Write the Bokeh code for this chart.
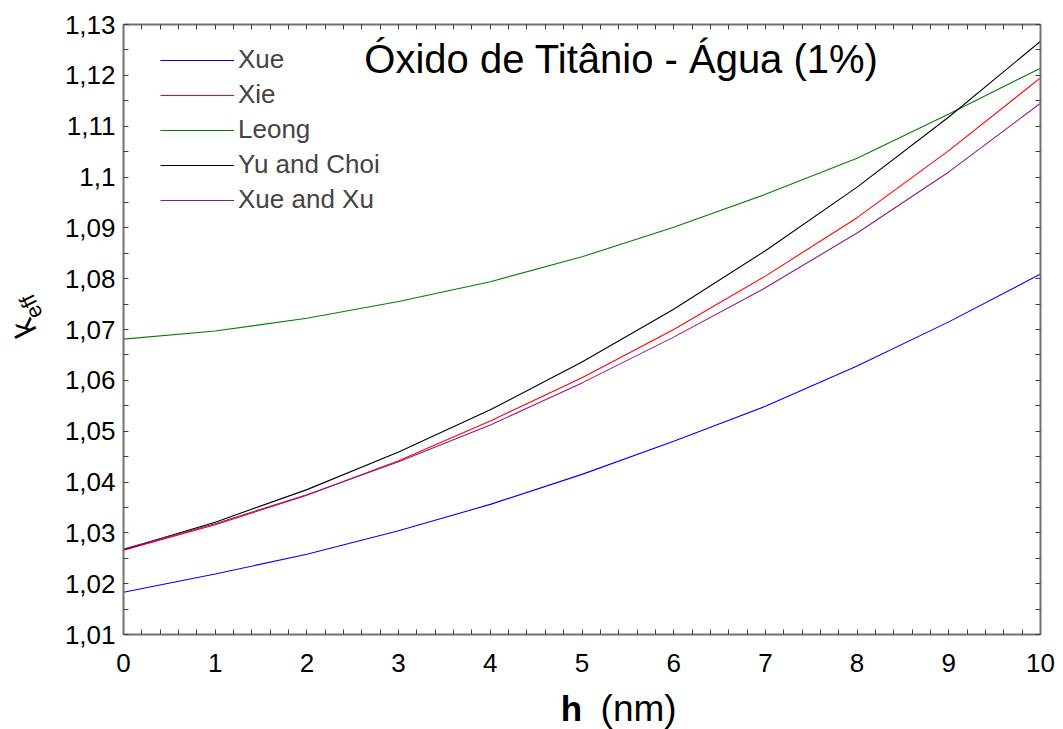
import math

from bokeh.core.properties import value
from bokeh.embed import file_html
from bokeh.layouts import column, row
from bokeh.models import (CustomJSTickFormatter, Label, Legend, LegendItem,
                          LinearAxis, Range1d, SingleIntervalTicker)
from bokeh.plotting import figure
from bokeh.resources import INLINE

# Espessura da nanocamada h (nm)
h = [0, 1, 2, 3, 4, 5, 6, 7, 8, 9, 10]

# Condutividade térmica efetiva k_eff para cada modelo
xue = [1.0183, 1.0219, 1.0258, 1.0304, 1.0356, 1.0415, 1.0480, 1.0549, 1.0628, 1.0715, 1.0809]
xie = [1.0266, 1.0316, 1.0374, 1.0442, 1.0520, 1.0605, 1.0700, 1.0805, 1.0920, 1.1052, 1.1195]
leong = [1.0681, 1.0697, 1.0722, 1.0755, 1.0794, 1.0843, 1.0901, 1.0966, 1.1037, 1.1124, 1.1214]
yu_choi = [1.0267, 1.0321, 1.0385, 1.0459, 1.0542, 1.0636, 1.0740, 1.0855, 1.0980, 1.1118, 1.1267]
xue_xu = [1.0268, 1.0318, 1.0375, 1.0440, 1.0512, 1.0595, 1.0685, 1.0782, 1.0890, 1.1010, 1.1145]

series_names = ["Xue", "Xie", "Leong", "Yu and Choi", "Xue and Xu"]
series_values = [xue, xie, leong, yu_choi, xue_xu]
series_colors = ["#0000ff", "#ff0000", "#008000", "#000000", "#8b1a8b"]

title_text = "Óxido de Titânio - Água (1%)"

FONT = "Liberation Sans"
AXIS_GRAY = "#707070"

LEFT_W = 52      # strip holding the rotated y title
BOTTOM_H = 44    # strip holding the x title
W, H = 1063, 729
FRAME_LEFT = 123  # page x of the plot frame's left edge

# ---------------------------------------------------------------- main plot
p = figure(
    width=W - LEFT_W, height=H - BOTTOM_H,
    output_backend="svg", toolbar_location=None,
    x_range=Range1d(0, 10), y_range=Range1d(1.01, 1.130001),
    min_border_left=FRAME_LEFT - LEFT_W, min_border_right=23,
    min_border_top=24, min_border_bottom=51,
    x_axis_type=None, y_axis_type=None,
)
p.outline_line_color = None
p.background_fill_color = "white"
p.border_fill_color = "white"

x_ticker = SingleIntervalTicker(interval=1, num_minor_ticks=5)
y_ticker = SingleIntervalTicker(interval=0.01, num_minor_ticks=2)

comma_fmt = CustomJSTickFormatter(code="""
    const v = Math.round(tick * 100) / 100;
    return v.toString().replace('.', ',');
""")


def style_axis(ax, show_labels):
    ax.major_tick_in = 0
    ax.major_tick_out = 0
    ax.minor_tick_in = 5
    ax.minor_tick_out = 0
    ax.minor_tick_line_color = "#404040"
    ax.minor_tick_line_width = 1
    ax.axis_line_color = AXIS_GRAY
    ax.axis_line_width = 2
    if show_labels:
        ax.major_label_text_font = FONT
        ax.major_label_text_font_size = "26px"
        ax.major_label_text_color = "black"
    else:
        ax.major_label_text_font_size = "0px"
        ax.major_label_text_color = None


x_bottom = LinearAxis(ticker=x_ticker)
style_axis(x_bottom, True)
x_bottom.major_label_standoff = 19
p.add_layout(x_bottom, "below")

y_left = LinearAxis(ticker=y_ticker, formatter=comma_fmt)
style_axis(y_left, True)
y_left.major_label_standoff = 8
p.add_layout(y_left, "left")

x_top = LinearAxis(ticker=x_ticker)
style_axis(x_top, False)
p.add_layout(x_top, "above")

y_right = LinearAxis(ticker=y_ticker)
style_axis(y_right, False)
p.add_layout(y_right, "right")

# dotted grid at the major ticks
p.xgrid.ticker = x_ticker
p.ygrid.ticker = y_ticker
for g in (p.xgrid, p.ygrid):
    g.grid_line_color = "#b8b8b8"
    g.grid_line_dash = "1 3"
    g.grid_line_width = 1

items = []
for name, vals, col in zip(series_names, series_values, series_colors):
    r = p.line(h, vals, line_color=col, line_width=1.1)
    items.append(LegendItem(label=name, renderers=[r]))

legend = Legend(
    items=items, location=(37, 419),
    padding=0, margin=0, spacing=4,
    glyph_width=74, glyph_height=28, label_height=28, label_standoff=4,
    label_text_font=FONT, label_text_font_size="26px",
    border_line_color=None, background_fill_alpha=0,
)
p.add_layout(legend, "center")

p.add_layout(Label(
    x=498, y=576, x_units="screen", y_units="screen",
    text=title_text, text_align="center", text_baseline="alphabetic",
    text_font=FONT, text_font_size="40px", text_color="black",
))


def text_strip(width, height):
    # a bare canvas whose data units are pixels
    f = figure(
        width=width, height=height,
        output_backend="svg", toolbar_location=None,
        x_range=Range1d(0, width), y_range=Range1d(0, height),
        min_border=0, x_axis_type=None, y_axis_type=None,
    )
    f.outline_line_color = None
    f.grid.visible = False
    f.background_fill_color = "white"
    f.border_fill_color = "white"
    return f


# ---------------------------------------------------- y title: k with subscript
# the svg canvas takes this rotation in degrees (quarter turn, reading upward)
QUARTER = 90
pk = text_strip(LEFT_W, H)
pk.text(x=[27], y=[394], text=["k"], angle=QUARTER,
        text_align="left", text_baseline="alphabetic",
        text_font=value(FONT), text_font_size="32px", text_color="black")
pk.text(x=[36], y=[412], text=["eff"], angle=QUARTER,
        text_align="left", text_baseline="alphabetic",
        text_font=value(FONT), text_font_size="22px", text_color="black")

# ------------------------------------------------- x title: bold h and (nm)
ph = text_strip(W - LEFT_W, BOTTOM_H)
ph.text(x=[534 - LEFT_W], y=[21], text=["h"],
        text_align="left", text_baseline="alphabetic",
        text_font=value(FONT), text_font_size="35px", text_font_style="bold",
        text_color="black")
ph.text(x=[578 - LEFT_W], y=[21], text=["(nm)"],
        text_align="left", text_baseline="alphabetic",
        text_font=value(FONT), text_font_size="37px", text_color="black")

layout = row(pk, column(p, ph, spacing=0), spacing=0)

open("out.html", "w").write(file_html(layout, INLINE))
